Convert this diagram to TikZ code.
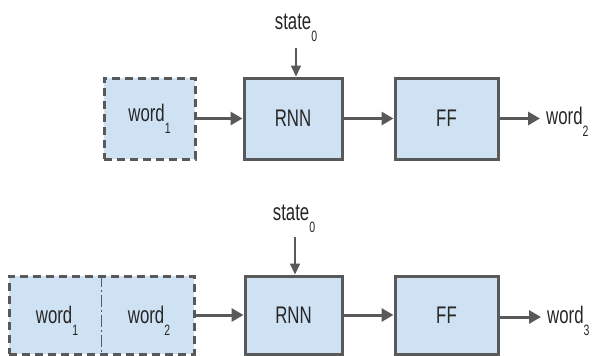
\documentclass[tikz,border=0pt]{standalone}
\usepackage{fontspec}
\setmainfont{Liberation Sans}[FakeStretch=0.7]
\usetikzlibrary{arrows.meta}
\definecolor{boxfill}{HTML}{CFE2F3}
\definecolor{edge}{HTML}{595959}
\newcommand\lowsub[1]{\raisebox{-0.5em}{\fontsize{15}{15}\selectfont #1}}
\tikzset{
  solidbox/.style={draw=edge, line width=3pt, fill=boxfill},
  dashbox/.style={draw=edge, line width=3pt, fill=boxfill, dash pattern=on 8pt off 5pt},
  lbl/.style={font=\fontsize{24}{24}\selectfont, text=black!85, inner sep=0pt},
  conn/.style={draw=edge, line width=3pt, -{Triangle[length=12pt,width=13pt]}},
  thinconn/.style={draw=edge, line width=2pt, -{Triangle[length=11pt,width=10pt]}}
}
\begin{document}
\begin{tikzpicture}[x=1pt,y=-1pt]
\useasboundingbox (0,0) rectangle (592,356);
% top row
\node[dashbox, minimum width=91pt, minimum height=81pt] (w1a) at (149.5,118.5) {};
\node[lbl] at (w1a) {word\lowsub{1}};
\node[solidbox, minimum width=98pt, minimum height=81pt] (rnn1) at (293,118.5) {};
\node[lbl] at (rnn1) {RNN};
\node[solidbox, minimum width=103pt, minimum height=81pt] (ff1) at (446.5,118.5) {};
\node[lbl] at (ff1) {FF};
\node[lbl, anchor=west] (out1) at (546,122) {word\lowsub{2}};
\node[lbl] (st1) at (296,28) {state\lowsub{0}};
\coordinate (s1) at (296,48);
\coordinate (e1) at (540,118.5);
\draw[thinconn] (s1) -- (rnn1.north -| s1);
\draw[conn] (w1a.east) -- (rnn1.west);
\draw[conn] (rnn1.east) -- (ff1.west);
\draw[conn] (ff1.east) -- (e1);
% bottom row
\node[dashbox, minimum width=185pt, minimum height=78pt] (wb) at (101.5,315) {};
\draw[draw=edge, line width=1pt, dash pattern=on 12pt off 3pt on 2pt off 3pt] (wb.north) -- (wb.south);
\node[lbl] (w1b) at (57,321) {word\lowsub{1}};
\node[lbl] (w2b) at (149,321) {word\lowsub{2}};
\node[solidbox, minimum width=97pt, minimum height=78pt] (rnn2) at (293.5,315) {};
\node[lbl] at (rnn2) {RNN};
\node[solidbox, minimum width=103pt, minimum height=78pt] (ff2) at (446.5,315) {};
\node[lbl] at (ff2) {FF};
\node[lbl, anchor=west] (out2) at (547,321) {word\lowsub{3}};
\node[lbl] (st2) at (294,219) {state\lowsub{0}};
\coordinate (s2) at (295,237);
\coordinate (e2) at (541,317);
\draw[thinconn] (s2) -- (rnn2.north -| s2);
\draw[conn] (wb.east) -- (rnn2.west);
\draw[conn] (rnn2.east) -- (ff2.west);
\draw[conn] (ff2.east |- e2) -- (e2);
\end{tikzpicture}
\end{document}
